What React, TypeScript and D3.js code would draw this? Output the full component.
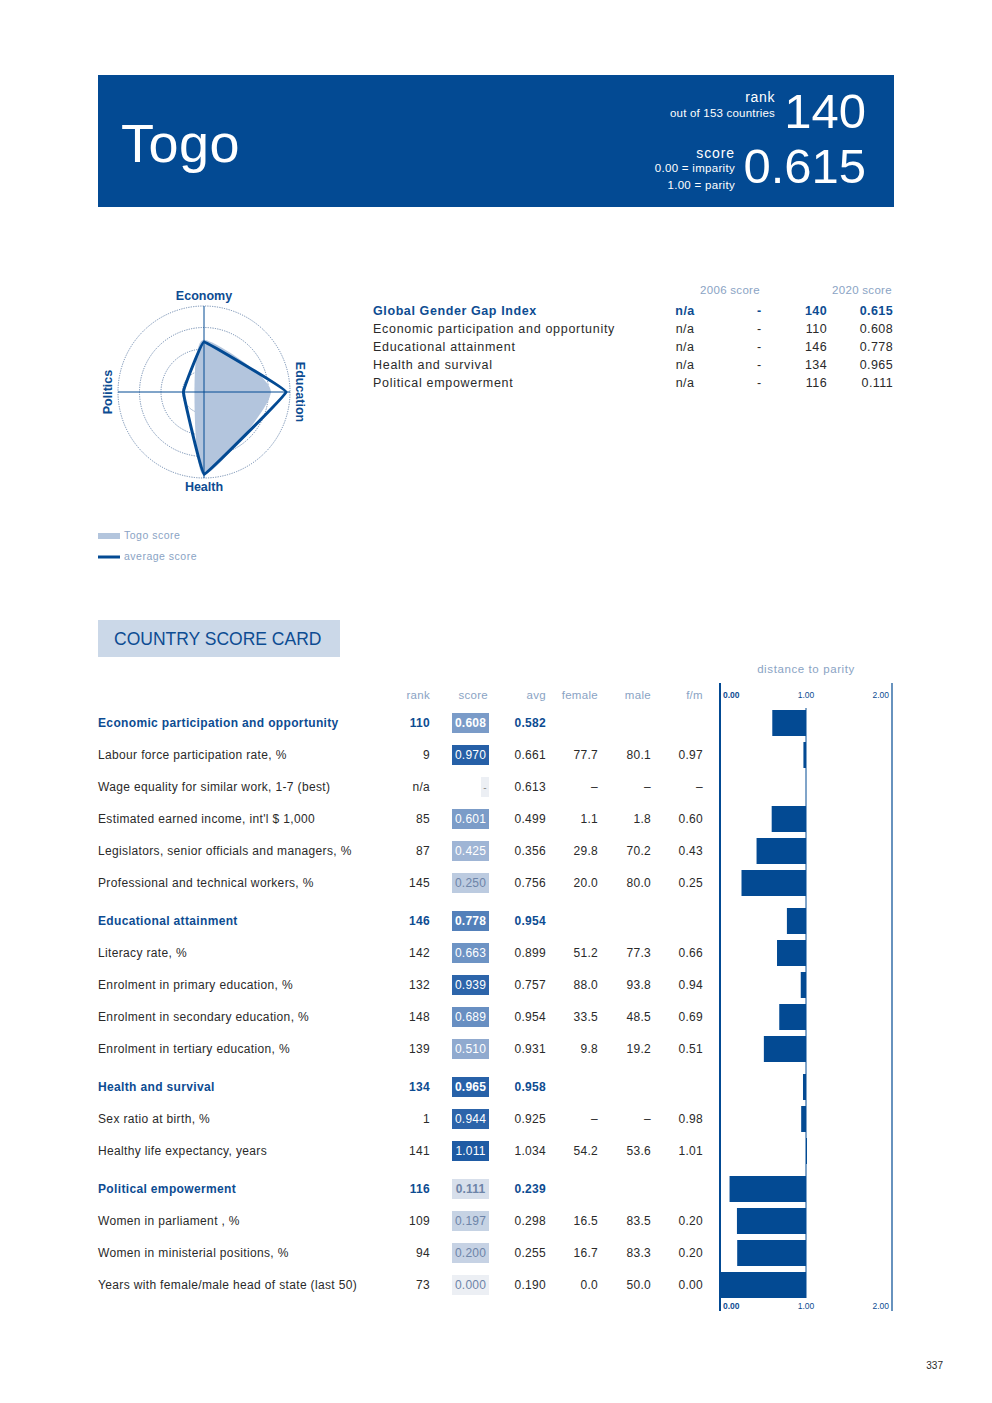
import React from 'react';
import * as d3 from 'd3';

// ---------- DATA ----------
const countryName = 'Togo';
const overallRank = '140';
const totalCountries = 153;
const overallScore = '0.615';

const summaryLabels = [
  'Global Gender Gap Index',
  'Economic participation and opportunity',
  'Educational attainment',
  'Health and survival',
  'Political empowerment',
];
const summary2006Rank = ['n/a', 'n/a', 'n/a', 'n/a', 'n/a'];
const summary2006Score = ['-', '-', '-', '-', '-'];
const summary2020Rank = ['140', '110', '146', '134', '116'];
const summary2020Score = ['0.615', '0.608', '0.778', '0.965', '0.111'];

const radarAxes = ['Economy', 'Education', 'Health', 'Politics'];
const radarCountry = [0.608, 0.778, 0.965, 0.111];
const radarAverage = [0.582, 0.954, 0.958, 0.239];
const radarRings = [0.25, 0.5, 0.75, 1.0];

const cardLabels = [
  'Economic participation and opportunity',
  'Labour force participation rate, %',
  'Wage equality for similar work, 1-7 (best)',
  "Estimated earned income, int'l $ 1,000",
  'Legislators, senior officials and managers, %',
  'Professional and technical workers, %',
  'Educational attainment',
  'Literacy rate, %',
  'Enrolment in primary education, %',
  'Enrolment in secondary education, %',
  'Enrolment in tertiary education, %',
  'Health and survival',
  'Sex ratio at birth, %',
  'Healthy life expectancy, years',
  'Political empowerment',
  'Women in parliament , %',
  'Women in ministerial positions, %',
  'Years with female/male head of state (last 50)',
];
const cardIsGroup = [true, false, false, false, false, false, true, false, false, false, false, true, false, false, true, false, false, false];
const cardRanks = ['110', '9', 'n/a', '85', '87', '145', '146', '142', '132', '148', '139', '134', '1', '141', '116', '109', '94', '73'];
const cardScores: (number | null)[] = [0.608, 0.970, null, 0.601, 0.425, 0.250, 0.778, 0.663, 0.939, 0.689, 0.510, 0.965, 0.944, 1.011, 0.111, 0.197, 0.200, 0.000];
const cardAvg = ['0.582', '0.661', '0.613', '0.499', '0.356', '0.756', '0.954', '0.899', '0.757', '0.954', '0.931', '0.958', '0.925', '1.034', '0.239', '0.298', '0.255', '0.190'];
const cardFemale = ['', '77.7', '–', '1.1', '29.8', '20.0', '', '51.2', '88.0', '33.5', '9.8', '', '–', '54.2', '', '16.5', '16.7', '0.0'];
const cardMale = ['', '80.1', '–', '1.8', '70.2', '80.0', '', '77.3', '93.8', '48.5', '19.2', '', '–', '53.6', '', '83.5', '83.3', '50.0'];
const cardRatio = ['', '0.97', '–', '0.60', '0.43', '0.25', '', '0.66', '0.94', '0.69', '0.51', '', '0.98', '1.01', '', '0.20', '0.20', '0.00'];
const parityTicks = [0, 1, 2];
const pageNumber = '337';

// ---------- STYLE ----------
const FONT = '"Liberation Sans", Arial, Helvetica, sans-serif';
const BLUE = '#034a93';
const TEXTBLUE = '#0d4c92';
const LIGHTLABEL = '#8aa3c4';
const DARK = '#2a2a2a';

export default function App() {
  // Radar
  const cx = 204, cy = 392, R = 86;
  const rScale = d3.scaleLinear().domain([0, 1]).range([0, R]);
  const angles = radarAxes.map((_, i) => (i * Math.PI) / 2);
  const radial = (curve: any) =>
    d3.lineRadial<number>()
      .angle((_, i) => angles[i])
      .radius((d) => rScale(d))
      .curve(curve);
  const countryPath = radial(d3.curveCardinalClosed.tension(0.3))(radarCountry) || '';
  const avgPath = radial(d3.curveCardinalClosed.tension(0.85))(radarAverage) || '';

  // Score card
  const rowY = (() => {
    const ys: number[] = [];
    let g = -1;
    cardLabels.forEach((_, i) => {
      if (cardIsGroup[i]) g += 1;
      ys.push(723 + i * 32 + g * 6);
    });
    return ys;
  })();
  const xBar = d3.scaleLinear().domain([0, 2]).range([720, 892]);
  const boxColor = d3.scaleLinear<string>()
    .domain([0, 0.25, 0.5, 0.75, 1])
    .range(['#eceff4', '#bccbe0', '#92acd0', '#5a85bd', '#1f5ba4'])
    .clamp(true);
  const boxText = (v: number) => (v < 0.3 ? '#6d84a8' : '#ffffff');

  const colRight = { rank: 430, avg: 546, female: 598, male: 651, ratio: 703 };

  return (
    <svg width={992} height={1403} style={{ position: 'absolute', left: 0, top: 0, background: '#fff' }} fontFamily={FONT}>
      {/* Header */}
      <rect x={98} y={75} width={796} height={132} fill={BLUE} />
      <text x={121} y={162} fontSize={54} fill="#fff" letterSpacing={0.5}>{countryName}</text>
      <text x={775} y={102} fontSize={14} fill="#fff" textAnchor="end" letterSpacing={0.6}>rank</text>
      <text x={775} y={117} fontSize={11.5} fill="#fff" textAnchor="end" letterSpacing={0.2}>{`out of ${totalCountries} countries`}</text>
      <text x={866} y={128} fontSize={49} fill="#fff" textAnchor="end">{overallRank}</text>
      <text x={735} y={158} fontSize={14} fill="#fff" textAnchor="end" letterSpacing={0.9}>score</text>
      <text x={735} y={172} fontSize={11.5} fill="#fff" textAnchor="end" letterSpacing={0.3}>0.00 = imparity</text>
      <text x={735} y={189} fontSize={11.5} fill="#fff" textAnchor="end" letterSpacing={0.3}>1.00 = parity</text>
      <text x={866} y={183} fontSize={49} fill="#fff" textAnchor="end">{overallScore}</text>

      {/* Radar */}
      <g>
        {radarRings.map((r) => (
          <circle key={r} cx={cx} cy={cy} r={rScale(r)} fill="none" stroke="#4d6f9c" strokeWidth={0.8} strokeDasharray="1.2,1.2" />
        ))}
        <path d={countryPath} transform={`translate(${cx},${cy})`} fill="#b3c5dd" />
        <line x1={cx - R} x2={cx + R} y1={cy} y2={cy} stroke={BLUE} strokeWidth={1} />
        <line x1={cx} x2={cx} y1={cy - R} y2={cy + R} stroke={BLUE} strokeWidth={1} />
        <path d={avgPath} transform={`translate(${cx},${cy})`} fill="none" stroke={BLUE} strokeWidth={3} strokeLinejoin="round" />
        <text x={cx} y={300} fontSize={12.5} fontWeight="bold" fill={TEXTBLUE} textAnchor="middle">{radarAxes[0]}</text>
        <text x={cx} y={491} fontSize={12.5} fontWeight="bold" fill={TEXTBLUE} textAnchor="middle">{radarAxes[2]}</text>
        <text transform={`translate(296,${cy}) rotate(90)`} fontSize={12.5} fontWeight="bold" fill={TEXTBLUE} textAnchor="middle">{radarAxes[1]}</text>
        <text transform={`translate(112,${cy}) rotate(-90)`} fontSize={12.5} fontWeight="bold" fill={TEXTBLUE} textAnchor="middle">{radarAxes[3]}</text>
      </g>

      {/* Legend */}
      <rect x={98} y={533} width={22} height={6} fill="#b3c5dd" />
      <text x={124} y={539} fontSize={10.5} fill={LIGHTLABEL} letterSpacing={0.5}>{`${countryName} score`}</text>
      <line x1={98} x2={120} y1={557} y2={557} stroke={BLUE} strokeWidth={3} />
      <text x={124} y={560} fontSize={10.5} fill={LIGHTLABEL} letterSpacing={0.5}>average score</text>

      {/* Summary table */}
      <text x={730} y={294} fontSize={11.5} fill={LIGHTLABEL} textAnchor="middle" letterSpacing={0.3}>2006 score</text>
      <text x={862} y={294} fontSize={11.5} fill={LIGHTLABEL} textAnchor="middle" letterSpacing={0.3}>2020 score</text>
      {summaryLabels.map((lab, i) => {
        const y = 315 + i * 18;
        const bold = i === 0;
        const fill = bold ? TEXTBLUE : DARK;
        const fw = bold ? 'bold' : 'normal';
        return (
          <g key={lab} fontSize={12.5} fill={fill} fontWeight={fw}>
            <text x={373} y={y} letterSpacing={bold ? 0.6 : 0.7}>{lab}</text>
            <text x={685} y={y} textAnchor="middle" letterSpacing={0.4}>{summary2006Rank[i]}</text>
            <text x={759} y={y} textAnchor="middle">{summary2006Score[i]}</text>
            <text x={827} y={y} textAnchor="end" letterSpacing={0.4}>{summary2020Rank[i]}</text>
            <text x={893} y={y} textAnchor="end" letterSpacing={0.4}>{summary2020Score[i]}</text>
          </g>
        );
      })}

      {/* Score card title */}
      <rect x={98} y={620} width={242} height={37} fill="#cbd8e8" />
      <text x={114} y={645} fontSize={17.5} fill={TEXTBLUE}>COUNTRY SCORE CARD</text>

      <text x={806} y={673} fontSize={11.5} fill={LIGHTLABEL} textAnchor="middle" letterSpacing={0.6}>distance to parity</text>

      {/* Column headers */}
      <g fontSize={11.5} fill={LIGHTLABEL} textAnchor="end" letterSpacing={0.3}>
        <text x={colRight.rank} y={699}>rank</text>
        <text x={488} y={699}>score</text>
        <text x={colRight.avg} y={699}>avg</text>
        <text x={colRight.female} y={699}>female</text>
        <text x={colRight.male} y={699}>male</text>
        <text x={colRight.ratio} y={699}>f/m</text>
      </g>

      {/* Parity axis frame */}
      <line x1={xBar(0)} x2={xBar(0)} y1={683} y2={1311} stroke={BLUE} strokeWidth={2} />
      <line x1={xBar(2)} x2={xBar(2)} y1={683} y2={1311} stroke={BLUE} strokeWidth={1.2} />
      <line x1={xBar(1)} x2={xBar(1)} y1={708} y2={1298} stroke={BLUE} strokeWidth={1} />
      {parityTicks.map((t, i) => {
        const anchor = i === 0 ? 'start' : i === parityTicks.length - 1 ? 'end' : 'middle';
        const x = i === 0 ? xBar(t) + 3 : i === parityTicks.length - 1 ? xBar(t) - 3 : xBar(t);
        return (
          <g key={t} fontSize={8.5} fill={TEXTBLUE} textAnchor={anchor} fontWeight={i === 0 ? 'bold' : 'normal'}>
            <text x={x} y={698}>{t.toFixed(2)}</text>
            <text x={x} y={1309}>{t.toFixed(2)}</text>
          </g>
        );
      })}

      {/* Rows */}
      {cardLabels.map((lab, i) => {
        const y = rowY[i];
        const g = cardIsGroup[i];
        const fill = g ? TEXTBLUE : DARK;
        const fw = g ? 'bold' : 'normal';
        const v = cardScores[i];
        return (
          <g key={lab} fontSize={12} fill={fill} fontWeight={fw}>
            <text x={98} y={y + 4} letterSpacing={0.35}>{lab}</text>
            <text x={colRight.rank} y={y + 4} textAnchor="end" letterSpacing={0.3}>{cardRanks[i]}</text>
            {v === null ? (
              <g>
                <rect x={481} y={y - 10} width={8} height={20} fill="#eceff4" />
                <text x={485} y={y + 4} textAnchor="middle" fill="#8a8a8a" fontSize={10}>-</text>
              </g>
            ) : (
              <g>
                <rect x={452} y={y - 10} width={37} height={20} fill={boxColor(v)} />
                <text x={470.5} y={y + 4} textAnchor="middle" fill={boxText(v)} letterSpacing={0.2}>{v.toFixed(3)}</text>
              </g>
            )}
            <text x={colRight.avg} y={y + 4} textAnchor="end" letterSpacing={0.3}>{cardAvg[i]}</text>
            <text x={colRight.female} y={y + 4} textAnchor="end" letterSpacing={0.3}>{cardFemale[i]}</text>
            <text x={colRight.male} y={y + 4} textAnchor="end" letterSpacing={0.3}>{cardMale[i]}</text>
            <text x={colRight.ratio} y={y + 4} textAnchor="end" letterSpacing={0.3}>{cardRatio[i]}</text>
            {v !== null && (
              <rect
                x={Math.min(xBar(v), xBar(1))}
                y={y - 13}
                width={Math.max(Math.abs(xBar(1) - xBar(v)), 1)}
                height={26}
                fill={BLUE}
              />
            )}
          </g>
        );
      })}

      <text x={943} y={1369} fontSize={10} fill={DARK} textAnchor="end">{pageNumber}</text>
    </svg>
  );
}
